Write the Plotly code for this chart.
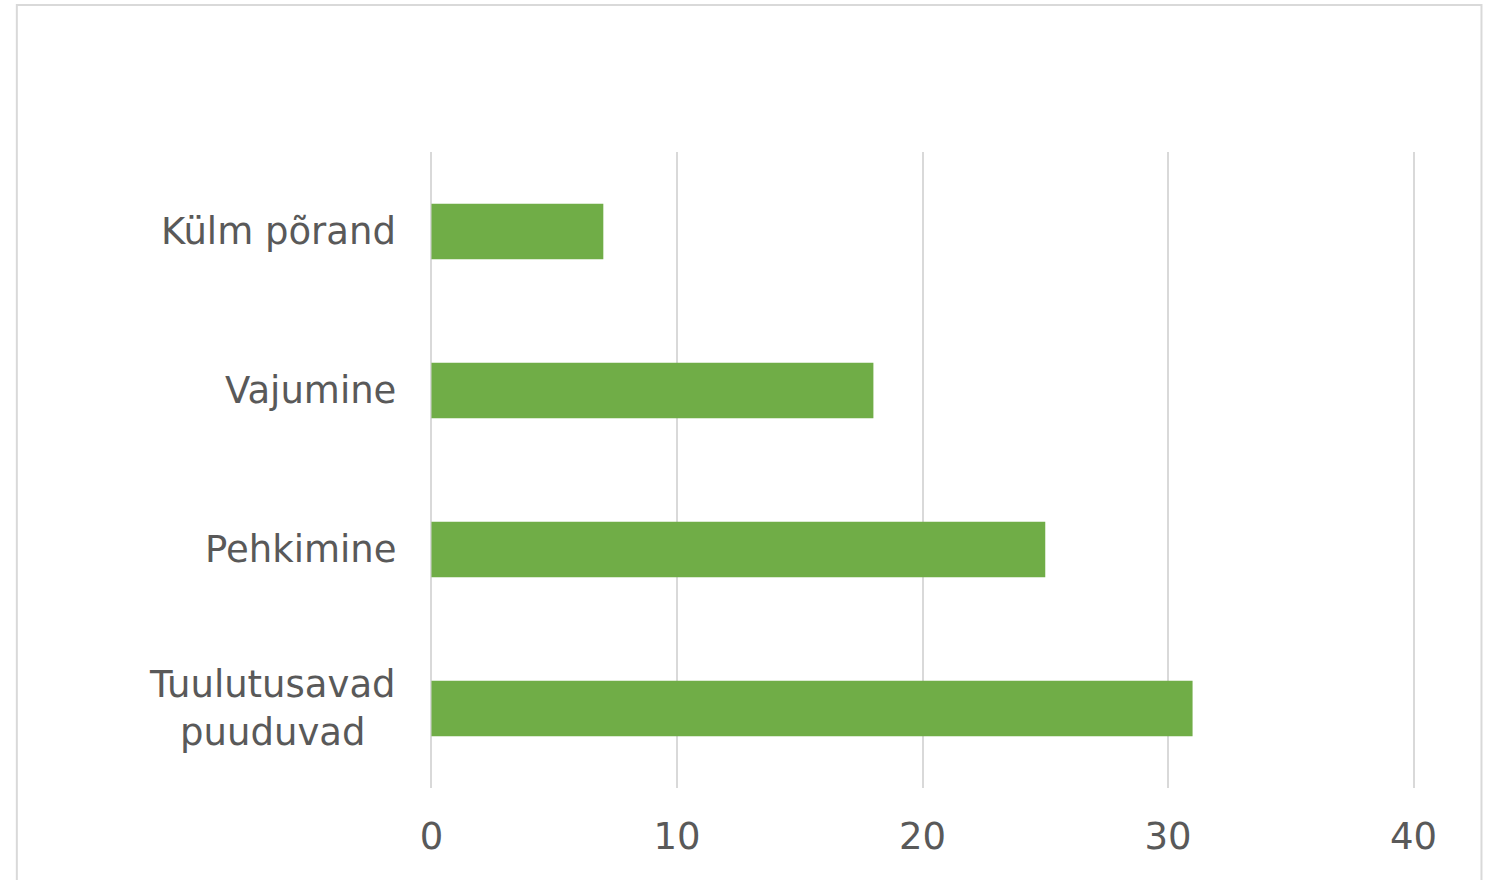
import plotly.graph_objects as go

categories = ["Tuulutusavad<br>puuduvad", "Pehkimine", "Vajumine", "Külm põrand"]
values = [31, 25, 18, 7]
x_ticks = [0, 10, 20, 30, 40]

W, H = 1491, 880
unit = (1414 - 431) / 40.0
pad = 0.1
L = 431 - pad * unit
R = W - (1414 + pad * unit)
T, B = 152, 92
pw, ph = W - L - R, H - T - B

fig = go.Figure(go.Bar(
    x=values, y=categories, orientation="h",
    marker=dict(color="#70ad47", line=dict(width=0)),
))

fig.update_layout(
    width=W, height=H,
    margin=dict(l=L, r=R, t=T, b=B, pad=0),
    paper_bgcolor="white", plot_bgcolor="white",
    bargap=0.65,
    showlegend=False,
    font=dict(family="DejaVu Sans, Verdana, sans-serif", size=37, color="#595959"),
    xaxis=dict(range=[-pad, 40 + pad], tickvals=x_ticks, showgrid=True, gridcolor="#d9d9d9",
               gridwidth=2, zeroline=False, showline=False,
               ticks="outside", ticklen=16, tickcolor="rgba(0,0,0,0)",
               tickfont=dict(size=37, color="#595959")),
    yaxis=dict(showgrid=False, zeroline=False, showline=False, showticklabels=False),
)

for cat in categories:
    fig.add_annotation(text=cat, xref="paper", yref="y", x=(398 - L) / pw, y=cat,
                       xanchor="right", yanchor="middle", align="center",
                       showarrow=False, font=dict(size=37, color="#595959"))

fig.add_shape(type="rect", xref="paper", yref="paper",
              x0=(16 - L) / pw, x1=(1482 - L) / pw,
              y0=-0.3, y1=(H - B - 5) / ph,
              line=dict(color="#d9d9d9", width=2), fillcolor="rgba(0,0,0,0)",
              layer="below")

fig.write_html("out.html", config={"displayModeBar": False},
               post_script="document.body.style.margin='0';")
